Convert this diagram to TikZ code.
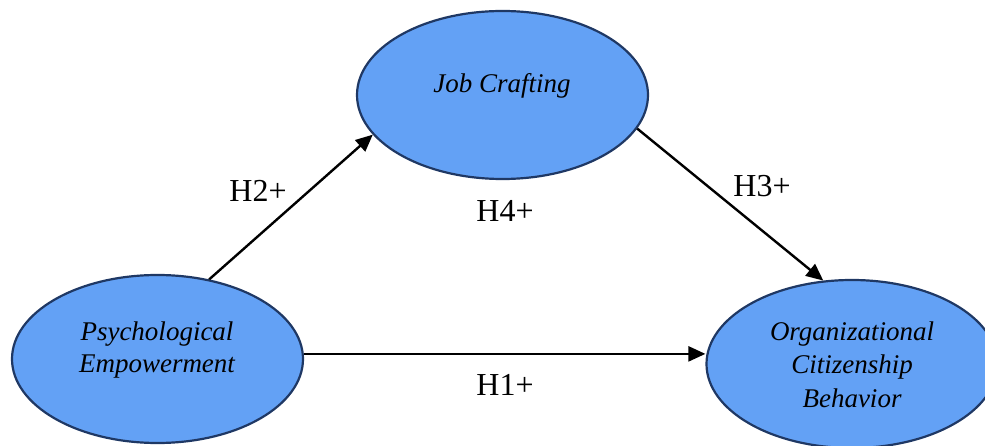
\documentclass[tikz,border=0pt]{standalone}
\usepackage{fontspec}
\setmainfont{Liberation Serif}
\usetikzlibrary{shapes.geometric,arrows.meta}
\definecolor{efill}{RGB}{99,161,245}
\definecolor{edraw}{RGB}{31,56,100}
\begin{document}
\begin{tikzpicture}[x=1pt,y=-1pt,
  construct/.style={ellipse, draw=edraw, line width=2.2pt, fill=efill, minimum width=291pt, minimum height=168pt, inner sep=0pt},
  ctext/.style={font=\fontsize{27}{33}\selectfont\itshape, anchor=base, inner sep=0pt},
  hyp/.style={font=\fontsize{32}{36}\selectfont, anchor=base, inner sep=0pt},
  arr/.style={line width=2.4pt, -{Triangle[length=17pt,width=15pt]}}]
\useasboundingbox (0,0) rectangle (985,446);
\node[construct] (jc) at (502.5,95) {};
\node[construct] (pe) at (157.5,359) {};
\node[construct] (ocb) at (852,364) {};
\node[ctext] (jct) at (502,93) {Job Crafting};
\node[ctext] (pet1) at (157,340) {Psychological};
\node[ctext] (pet2) at (157,372) {Empowerment};
\node[ctext] (ocbt1) at (852,340) {Organizational};
\node[ctext] (ocbt2) at (852,373) {Citizenship};
\node[ctext] (ocbt3) at (852,407) {Behavior};
\draw[arr] (pe.57.8) -- (jc.197);
\draw[arr] (jc.346.6) -- (ocb.109);
\draw[arr] (pe.2) -- (pe.2 -| ocb.west);
\node[hyp] (h2) at (258,202) {H2+};
\node[hyp] (h3) at (762,197) {H3+};
\node[hyp] (h4) at (505,222) {H4+};
\node[hyp] (h1) at (505,395) {H1+};
\end{tikzpicture}
\end{document}
